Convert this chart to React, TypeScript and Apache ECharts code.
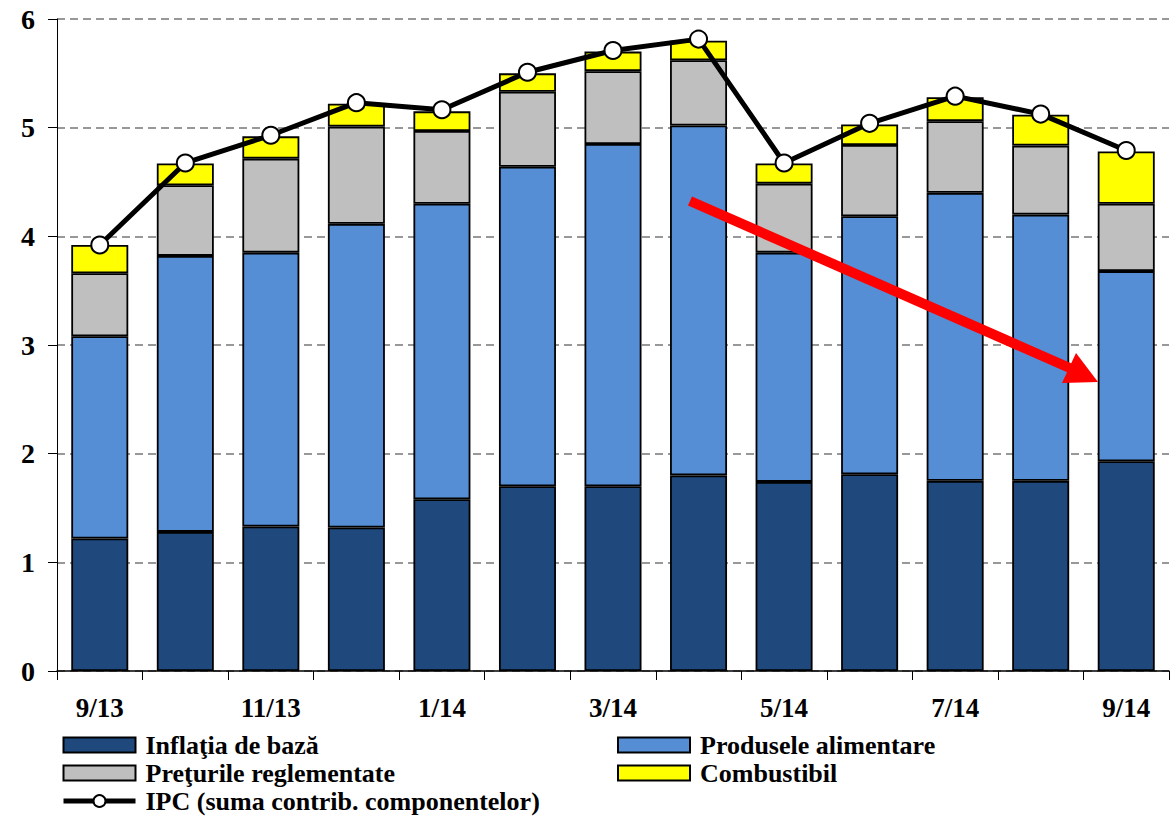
import React, { useEffect, useRef } from "react";
import * as echarts from "echarts";

const categories = ["9/13", "10/13", "11/13", "12/13", "1/14", "2/14", "3/14", "4/14", "5/14", "6/14", "7/14", "8/14", "9/14"];
const inflatiaDeBaza = [1.22, 1.28, 1.33, 1.32, 1.58, 1.70, 1.70, 1.80, 1.74, 1.81, 1.75, 1.75, 1.93];
const produseleAlimentare = [1.86, 2.54, 2.52, 2.795, 2.72, 2.94, 3.15, 3.22, 2.11, 2.375, 2.65, 2.45, 1.75];
const preturileReglementate = [0.58, 0.65, 0.865, 0.895, 0.67, 0.69, 0.67, 0.60, 0.635, 0.655, 0.66, 0.635, 0.62];
const combustibil = [0.26, 0.20, 0.205, 0.21, 0.18, 0.17, 0.18, 0.18, 0.185, 0.19, 0.22, 0.285, 0.48];
const ipc = [3.92, 4.675, 4.93, 5.23, 5.165, 5.51, 5.71, 5.815, 4.675, 5.04, 5.29, 5.125, 4.79];
const yTicks = [0, 1, 2, 3, 4, 5, 6];

const FONT = "'Liberation Serif', 'Times New Roman', serif";

export default function App() {
  const ref = useRef<HTMLDivElement>(null);
  useEffect(() => {
    if (!ref.current) return;
    const chart = echarts.init(ref.current, undefined, { renderer: "svg" });
    const barBase = {
      type: "bar",
      stack: "total",
      barWidth: 57,
      itemStyle: { borderColor: "#000", borderWidth: 1.8 },
    };
    const legendText = { fontFamily: FONT, fontWeight: "bold", fontSize: 26, color: "#000", lineHeight: 28, padding: [0, 0, 0, 5] };
    const legendCommon = {
      top: 731,
      height: 90,
      padding: 0,
      orient: "vertical",
      itemWidth: 72,
      itemHeight: 15,
      itemGap: 0,
      textStyle: legendText,
      lineStyle: { width: 5 },
    };
    chart.setOption({
      animation: false,
      backgroundColor: "#fff",
      grid: { left: 57, right: 4, top: 19, bottom: 145, containLabel: false },
      xAxis: {
        type: "category",
        data: categories,
        axisLine: { lineStyle: { color: "#000", width: 1.5 } },
        axisTick: { show: true, interval: 0, length: 9, alignWithLabel: false, lineStyle: { color: "#000" } },
        axisLabel: {
          interval: 1,
          margin: 23,
          fontFamily: FONT,
          fontWeight: "bold",
          fontSize: 27,
          color: "#000",
        },
      },
      yAxis: {
        type: "value",
        min: yTicks[0],
        max: yTicks[yTicks.length - 1],
        interval: 1,
        axisLine: { show: true, lineStyle: { color: "#000", width: 1 } },
        axisTick: { show: true, length: 9, lineStyle: { color: "#000" } },
        axisLabel: {
          margin: 22,
          fontFamily: FONT,
          fontWeight: "bold",
          fontSize: 28,
          color: "#000",
        },
        splitLine: { show: true, lineStyle: { color: "#777", type: [8, 5], width: 1.5 } },
      },
      legend: [
        {
          ...legendCommon,
          left: 61,
          data: [
            { name: "Inflaţia de bază", icon: "rect" },
            { name: "Preţurile reglementate", icon: "rect" },
            { name: "IPC (suma contrib. componentelor)" },
          ],
        },
        {
          ...legendCommon,
          left: 617,
          data: [
            { name: "Produsele alimentare", icon: "rect" },
            { name: "Combustibil", icon: "rect" },
          ],
        },
      ],
      series: [
        { ...barBase, name: "Inflaţia de bază", data: inflatiaDeBaza, itemStyle: { ...barBase.itemStyle, color: "#1F497D" } },
        { ...barBase, name: "Produsele alimentare", data: produseleAlimentare, itemStyle: { ...barBase.itemStyle, color: "#558ED5" } },
        { ...barBase, name: "Preţurile reglementate", data: preturileReglementate, itemStyle: { ...barBase.itemStyle, color: "#BFBFBF" } },
        { ...barBase, name: "Combustibil", data: combustibil, itemStyle: { ...barBase.itemStyle, color: "#FFFF00" } },
        {
          type: "line",
          name: "IPC (suma contrib. componentelor)",
          data: ipc,
          symbol: "circle",
          symbolSize: 17,
          lineStyle: { color: "#000", width: 5 },
          itemStyle: { color: "#fff", borderColor: "#000", borderWidth: 2 },
          z: 5,
        },
      ],
      graphic: [
        {
          type: "line",
          shape: { x1: 690, y1: 201, x2: 1072, y2: 369 },
          style: { stroke: "#FF0000", lineWidth: 10 },
          z: 100,
        },
        {
          type: "polygon",
          shape: { points: [[1098, 382], [1062, 383], [1076, 353]] },
          style: { fill: "#FF0000" },
          z: 100,
        },
      ],
    });
    return () => chart.dispose();
  }, []);
  return <div ref={ref} style={{ position: "fixed", left: 0, top: 0, width: 1173, height: 816 }} />;
}
